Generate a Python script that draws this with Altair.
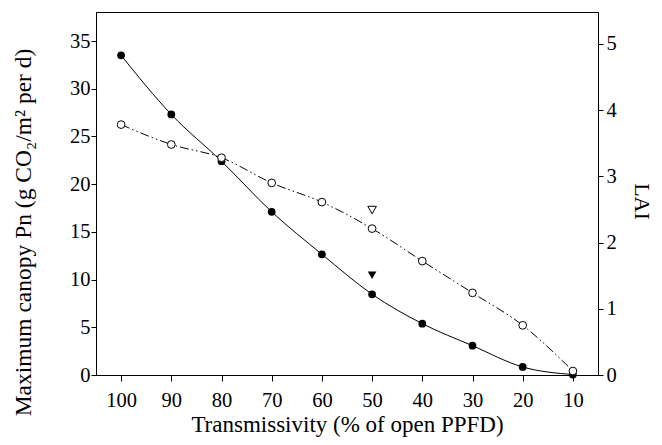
import altair as alt
import pandas as pd

# Data
trans = [100, 90, 80, 70, 60, 50, 40, 30, 20, 10]
pn = [33.5, 27.3, 22.4, 17.1, 12.65, 8.46, 5.38, 3.07, 0.84, 0.05]
lai = [3.78, 3.48, 3.28, 2.90, 2.61, 2.21, 1.72, 1.24, 0.75, 0.06]
tri_trans = [50]
pn_tri = [10.45]
lai_tri = [2.49]

df = pd.DataFrame({"t": trans, "pn": pn, "lai": lai})
dtri = pd.DataFrame({"t": tri_trans, "pn": pn_tri, "lai": lai_tri})

FONT = "Liberation Serif"

xenc = alt.X("t:Q", scale=alt.Scale(domain=[5, 105], reverse=True, nice=False, zero=False),
             axis=alt.Axis(values=trans, title="Transmissivity (% of open PPFD)",
                           grid=False, tickSize=6, labelPadding=9, titlePadding=3,
                           titleFontSize=23))

yl_scale = alt.Scale(domain=[0, 38.04], nice=False, zero=False)
yr_scale = alt.Scale(domain=[0, 5.48], nice=False, zero=False)

yl_axis = alt.Axis(values=[0, 5, 10, 15, 20, 25, 30, 35], orient="left", grid=False,
                   title="Maximum canopy Pn (g CO\u2082/m\u00b2 per d)", tickSize=5,
                   labelPadding=1, titlePadding=34, titleFontSize=23.5, titleY=220)
yr_axis = alt.Axis(values=[0, 1, 2, 3, 4, 5], orient="right", grid=False, title="LAI",
                   tickSize=5, labelPadding=3, titleFontSize=22,
                   titleX=36, titleY=189, titleBaseline="alphabetic", titleAngle=90)

base = alt.Chart(df).encode(x=xenc)

pn_line = base.mark_line(color="black", strokeWidth=1, interpolate="monotone").encode(
    y=alt.Y("pn:Q", scale=yl_scale, axis=yl_axis))
pn_pts = base.mark_point(shape="circle", filled=True, color="black", size=60, opacity=1).encode(
    y=alt.Y("pn:Q", scale=yl_scale, axis=yl_axis))
pn_tri_m = alt.Chart(dtri).mark_point(shape="triangle-down", filled=True, color="black",
                                      size=75, opacity=1).encode(
    x=xenc, y=alt.Y("pn:Q", scale=yl_scale, axis=yl_axis))

lai_line = base.mark_line(color="black", strokeWidth=1, interpolate="monotone",
                          strokeDash=[9, 3, 1.5, 3, 1.5, 3]).encode(
    y=alt.Y("lai:Q", scale=yr_scale, axis=yr_axis))
lai_pts = base.mark_point(shape="circle", filled=True, fill="white", stroke="black",
                          strokeWidth=1, size=60, opacity=1).encode(
    y=alt.Y("lai:Q", scale=yr_scale, axis=yr_axis))
lai_tri_m = alt.Chart(dtri).mark_point(shape="triangle-down", filled=True, fill="white",
                                       stroke="black", strokeWidth=1, size=75, opacity=1).encode(
    x=xenc, y=alt.Y("lai:Q", scale=yr_scale, axis=yr_axis))

left = alt.layer(pn_line, pn_pts, pn_tri_m)
right = alt.layer(lai_line, lai_pts, lai_tri_m)

chart = alt.layer(left, right).resolve_scale(y="independent").properties(
    width=502, height=363,
    autosize=alt.AutoSizeParams(type="none"),
    padding={"left": 88, "top": 4, "right": 56, "bottom": 62},
    background="white",
).configure_view(stroke="black", strokeWidth=1).configure_axis(
    labelFont=FONT, titleFont=FONT, labelFontSize=20.5, titleFontSize=23,
    titleFontWeight="normal", labelColor="black", titleColor="black",
    domainColor="black", tickColor="black", domainWidth=1, tickWidth=1,
)

chart.save("out.html", embed_options={"renderer": "svg", "actions": False})
